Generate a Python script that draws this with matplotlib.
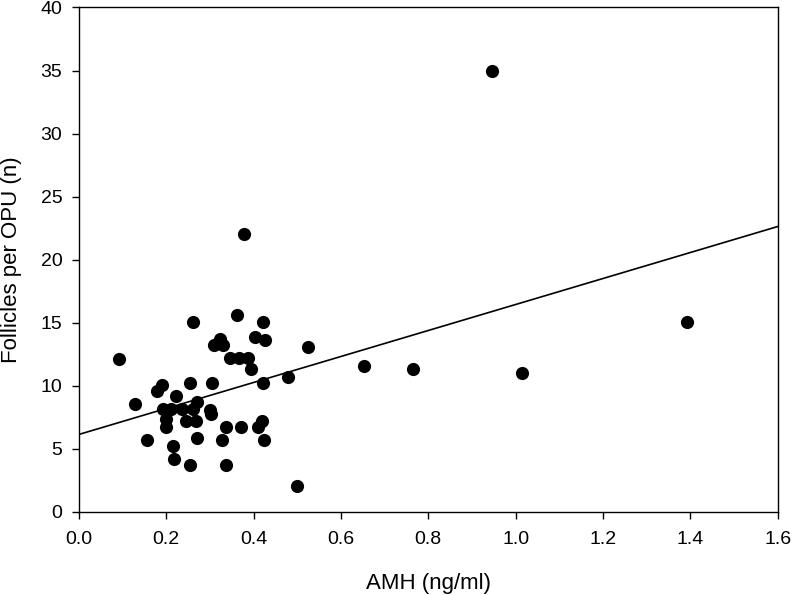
import matplotlib
matplotlib.use("Agg")
import matplotlib.pyplot as plt
import numpy as np

# AMH vs follicles per OPU
amh = [0.092, 0.128, 0.155, 0.178, 0.190, 0.193, 0.210, 0.199, 0.199, 0.222,
       0.216, 0.218, 0.237, 0.245, 0.254, 0.254, 0.262, 0.270, 0.268, 0.271,
       0.261, 0.300, 0.302, 0.304, 0.309, 0.324, 0.329, 0.327, 0.337, 0.337,
       0.346, 0.367, 0.388, 0.394, 0.363, 0.379, 0.372, 0.403, 0.427, 0.421,
       0.422, 0.410, 0.420, 0.424, 0.479, 0.500, 0.525, 0.653, 0.764, 0.947,
       1.014, 1.392]
follicles = [12.1, 8.6, 5.7, 9.6, 10.1, 8.2, 8.2, 7.4, 6.7, 9.2,
             5.2, 4.2, 8.2, 7.2, 10.2, 3.7, 8.2, 8.7, 7.2, 5.9,
             15.1, 8.1, 7.8, 10.2, 13.2, 13.7, 13.2, 5.7, 6.7, 3.7,
             12.2, 12.2, 12.2, 11.3, 15.6, 22.0, 6.7, 13.9, 13.6, 15.1,
             10.2, 6.7, 7.2, 5.7, 10.7, 2.1, 13.1, 11.6, 11.3, 35.0,
             11.0, 15.1]

# regression line
fit_intercept = 6.15
fit_slope = 10.3

xticks = [0.0, 0.2, 0.4, 0.6, 0.8, 1.0, 1.2, 1.4, 1.6]
yticks = [0, 5, 10, 15, 20, 25, 30, 35, 40]

plt.rcParams["font.family"] = ["Liberation Sans", "DejaVu Sans"]

fig = plt.figure(figsize=(7.93, 5.95), dpi=100)
ax = fig.add_axes([0.0996, 0.1395, 0.881, 0.848])

ax.scatter(amh, follicles, s=90, color="black", zorder=3, linewidths=0)

xl = np.array([0.0, 1.6])
ax.plot(xl, fit_intercept + fit_slope * xl, color="black", lw=1.2, zorder=2)

ax.set_xlim(0, 1.6)
ax.set_ylim(0, 40)
ax.set_xticks(xticks)
ax.set_xticklabels([f"{t:.1f}" for t in xticks])
ax.set_yticks(yticks)
ax.tick_params(direction="out", length=5, width=1, labelsize=14, top=False, right=False)
ax.tick_params(axis="x", pad=9)
ax.tick_params(axis="y", pad=7)
for s in ax.spines.values():
    s.set_linewidth(1.0)

ax.set_xlabel("AMH (ng/ml)", fontsize=16)
ax.set_ylabel("Follicles per OPU (n)", fontsize=16)
ax.xaxis.set_label_coords(0.5, -0.121)
ax.yaxis.set_label_coords(-0.082, 0.5)

fig.savefig("out.png", dpi=100)
